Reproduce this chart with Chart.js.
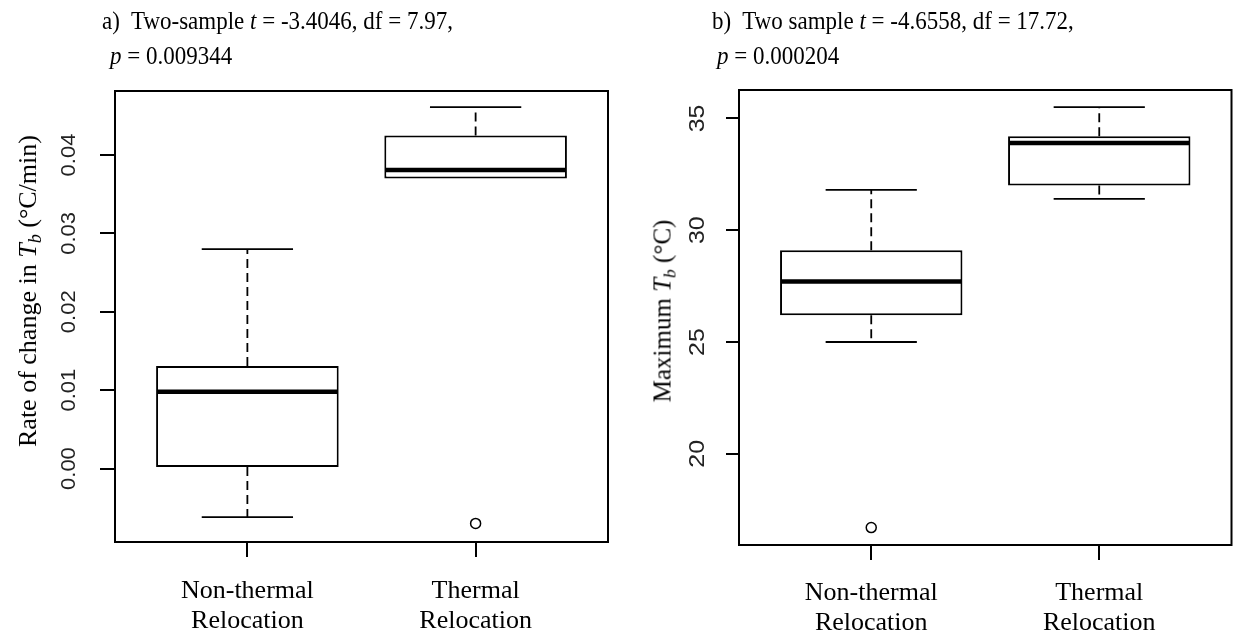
<!DOCTYPE html>
<html>
<head>
<meta charset="utf-8">
<script src="https://cdn.jsdelivr.net/npm/chart.js@4.4.1/dist/chart.umd.min.js"></script>
<style>
  html, body { margin: 0; padding: 0; background: #fff; }
  #wrap { position: relative; width: 1238px; height: 638px; overflow: hidden;
          font-family: 'Liberation Serif', 'Times New Roman', serif; color: #000; }
  canvas { position: absolute; top: 0; }
  #chartA { left: 0; }
  #chartB { left: 620px; }
  .title { position: absolute; font-size: 23px; line-height: 23px; white-space: nowrap;
           transform: scaleY(1.08); transform-origin: left 80%; }
  .ylab { position: absolute; line-height: 1; white-space: nowrap;
          transform: translate(-50%, -50%) rotate(-90deg); }
  .sub { font-size: 0.7em; position: relative; top: 0.3em; }
</style>
</head>
<body>
<div id="wrap">
  <canvas id="chartA" width="620" height="638"></canvas>
  <canvas id="chartB" width="618" height="638"></canvas>

  <div class="title" style="left:102px; top:10px">a)&nbsp; Two-sample <i>t</i> = -3.4046, df = 7.97,</div>
  <div class="title" style="left:110px; top:45px"><i>p</i> = 0.009344</div>
  <div class="title" style="left:712px; top:10px">b)&nbsp; Two sample <i>t</i> = -4.6558, df = 17.72,</div>
  <div class="title" style="left:717px; top:45px"><i>p</i> = 0.000204</div>

  <div class="ylab" style="left:28px; top:291px; font-size:26px">Rate of change in <i>T</i><span class="sub"><i>b</i></span> (°C/min)</div>
  <div class="ylab" style="left:662px; top:311px; font-size:25px">Maximum <i>T</i><span class="sub"><i>b</i></span> (°C)</div>
</div>

<script>
// groups on the x axis (positions 1 and 2)
const groupLines = [['Non-thermal', 'Relocation'], ['Thermal', 'Relocation']];
const groupPos = [1, 2];

// a) rate of change in Tb, °C/min
const rateLow = [-0.0062, 0.0370];
const rateQ1 = [0.0002, 0.0370];
const rateMedian = [0.0098, 0.0381];
const rateQ3 = [0.0131, 0.0425];
const rateHigh = [0.0280, 0.0461];
const rateOutliers = [[], [-0.0070]];
const rateTicks = [0, 0.01, 0.02, 0.03, 0.04];

// b) maximum Tb, °C
const maxLow = [25.0, 31.4];
const maxQ1 = [26.2, 32.0];
const maxMedian = [27.7, 33.9];
const maxQ3 = [29.1, 34.2];
const maxHigh = [31.8, 35.5];
const maxOutliers = [[16.7], []];
const maxTicks = [20, 25, 30, 35];

// median, whiskers and caps on top of the floating bars
const boxParts = {
  id: 'boxParts',
  afterDatasetsDraw(chart, args, opts) {
    const { ctx, scales: { x, y } } = chart;
    const bars = chart.getDatasetMeta(0).data;
    ctx.save();
    ctx.strokeStyle = '#000';
    opts.median.forEach((m, i) => {
      const cx = x.getPixelForValue(groupPos[i]);
      const half = bars[i].width / 2;
      const cap = half / 2;
      // whisker pairs: [box edge, whisker end]; a whisker equal to the box edge is not drawn
      const ends = [[opts.q3[i], opts.high[i]], [opts.q1[i], opts.low[i]]].filter(e => e[0] !== e[1]);

      ctx.lineWidth = 1.8;
      ctx.setLineDash([9, 5]);
      ctx.beginPath();
      ends.forEach(([from, to]) => {
        ctx.moveTo(cx, y.getPixelForValue(from));
        ctx.lineTo(cx, y.getPixelForValue(to));
      });
      ctx.stroke();

      ctx.setLineDash([]);
      ctx.beginPath();
      ends.forEach(([, to]) => {
        const py = y.getPixelForValue(to);
        ctx.moveTo(cx - cap, py);
        ctx.lineTo(cx + cap, py);
      });
      ctx.stroke();

      ctx.lineWidth = 4.5;
      ctx.beginPath();
      const pm = y.getPixelForValue(m);
      ctx.moveTo(cx - half + 1, pm);
      ctx.lineTo(cx + half - 1, pm);
      ctx.stroke();
    });
    ctx.restore();
  },
  afterDraw(chart) {
    const { ctx, chartArea: a } = chart;
    ctx.save();
    ctx.strokeStyle = '#000';
    ctx.lineWidth = 2;
    ctx.strokeRect(a.left, a.top, a.right - a.left, a.bottom - a.top);
    ctx.restore();
  }
};

// y tick labels written along the axis, like base R graphics
const yTickText = {
  id: 'yTickText',
  afterDraw(chart, args, opts) {
    const { ctx, chartArea, scales: { y } } = chart;
    ctx.save();
    ctx.fillStyle = '#222';
    ctx.font = opts.font;
    ctx.textAlign = 'center';
    ctx.textBaseline = 'middle';
    y.ticks.forEach(t => {
      ctx.save();
      ctx.translate(chartArea.left - opts.gap, y.getPixelForValue(t.value));
      ctx.rotate(-Math.PI / 2);
      ctx.scale(1, opts.squash);
      ctx.fillText(opts.format(t.value), 0, 0);
      ctx.restore();
    });
    ctx.restore();
  }
};

function boxChart(id, s) {
  const boxes = groupPos.map((p, i) => ({ x: p, y: [s.q1[i], s.q3[i]] }));
  const outs = [];
  s.outliers.forEach((list, i) => list.forEach(v => outs.push({ x: groupPos[i], y: v })));

  return new Chart(document.getElementById(id), {
    type: 'bar',
    data: {
      datasets: [
        {
          data: boxes,
          backgroundColor: '#fff',
          borderColor: '#000',
          borderWidth: 2,
          borderSkipped: false,
          barPercentage: 0.8,
          categoryPercentage: 1
        },
        {
          type: 'scatter',
          data: outs,
          pointStyle: 'circle',
          pointRadius: 5,
          borderWidth: 1.5,
          borderColor: '#000',
          backgroundColor: 'rgba(0,0,0,0)'
        }
      ]
    },
    options: {
      responsive: false,
      animation: false,
      devicePixelRatio: 1,
      layout: { padding: s.padding },
      plugins: {
        legend: { display: false },
        tooltip: { enabled: false },
        boxParts: { median: s.median, q1: s.q1, q3: s.q3, low: s.low, high: s.high },
        yTickText: s.tickText
      },
      scales: {
        x: {
          type: 'linear',
          min: 0.42,
          max: 2.58,
          offset: false,
          bounds: 'data',
          afterBuildTicks: sc => { sc.ticks = groupPos.map(v => ({ value: v })); },
          afterFit: sc => { sc.height = s.xHeight; },
          border: { display: false },
          grid: { offset: false, drawOnChartArea: false, drawTicks: true, tickLength: 15, color: '#000', lineWidth: 2 },
          ticks: {
            padding: s.xPad,
            color: '#000',
            maxRotation: 0,
            font: { family: "'Liberation Serif', 'Times New Roman', serif", size: 26, lineHeight: 1.15 },
            callback: v => groupLines[groupPos.indexOf(v)]
          }
        },
        y: {
          min: s.yMin,
          max: s.yMax,
          bounds: 'data',
          afterBuildTicks: sc => { sc.ticks = s.ticks.map(v => ({ value: v })); },
          afterFit: sc => { sc.width = s.yWidth; },
          border: { display: false },
          grid: { drawOnChartArea: false, drawTicks: true, tickLength: s.yTick, color: '#000', lineWidth: 2 },
          ticks: { display: false }
        }
      }
    },
    plugins: [boxParts, yTickText]
  });
}

boxChart('chartA', {
  q1: rateQ1, q3: rateQ3, median: rateMedian, low: rateLow, high: rateHigh,
  outliers: rateOutliers, ticks: rateTicks,
  yMin: -0.00937, yMax: 0.04817,
  padding: { top: 91, right: 12, left: 0, bottom: 0 },
  yWidth: 115, xHeight: 96, yTick: 15, xPad: 19,
  tickText: { font: "22px 'Liberation Sans', Arial, sans-serif", gap: 45, squash: 0.88, format: v => v.toFixed(2) }
});

boxChart('chartB', {
  q1: maxQ1, q3: maxQ3, median: maxMedian, low: maxLow, high: maxHigh,
  outliers: maxOutliers, ticks: maxTicks,
  yMin: 15.92, yMax: 36.27,
  padding: { top: 90, right: 4, left: 0, bottom: 0 },
  yWidth: 119, xHeight: 93, yTick: 13, xPad: 18,
  tickText: { font: "25px 'Liberation Sans', Arial, sans-serif", gap: 41, squash: 0.88, format: v => String(v) }
});
</script>
</body>
</html>
